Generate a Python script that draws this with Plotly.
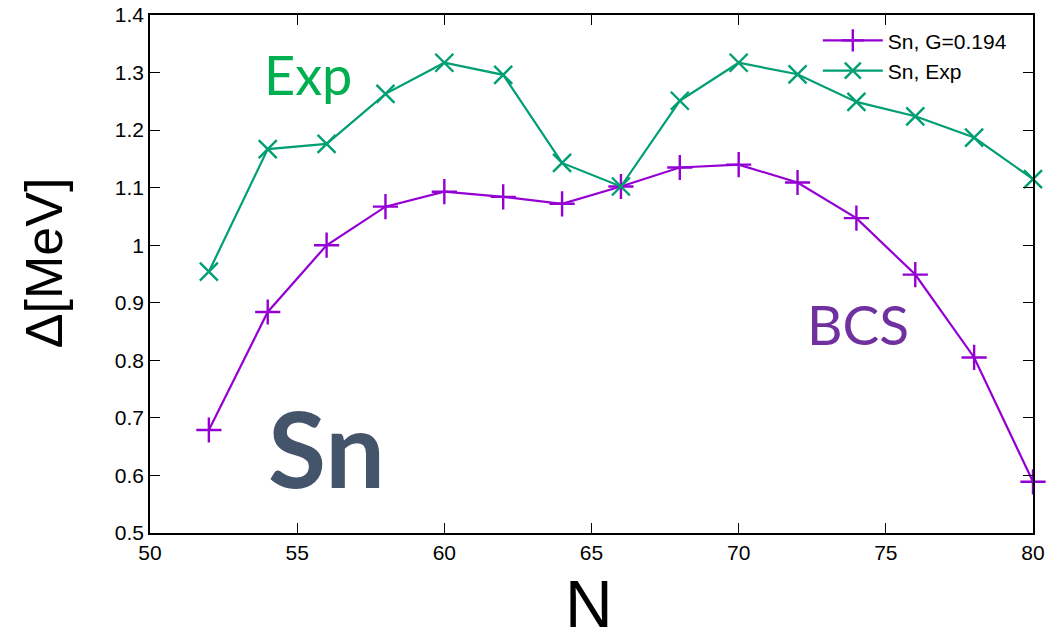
import plotly.graph_objects as go

N = [52, 54, 56, 58, 60, 62, 64, 66, 68, 70, 72, 74, 76, 78, 80]
bcs_gap = [0.679, 0.884, 1.000, 1.067, 1.093, 1.084, 1.072, 1.102, 1.135, 1.140,
           1.109, 1.047, 0.949, 0.805, 0.589]
exp_gap = [0.954, 1.167, 1.176, 1.263, 1.317, 1.296, 1.143, 1.102, 1.251, 1.317,
           1.297, 1.249, 1.224, 1.187, 1.115]
x_ticks = [50, 55, 60, 65, 70, 75, 80]
y_ticks = [0.5, 0.6, 0.7, 0.8, 0.9, 1.0, 1.1, 1.2, 1.3, 1.4]
y_tick_text = ["0.5", "0.6", "0.7", "0.8", "0.9", "1", "1.1", "1.2", "1.3", "1.4"]

PURPLE = "#9400D3"
GREEN = "#009E73"
FONT = "Liberation Sans, Arial, sans-serif"
NARROW = "Liberation Sans Narrow, Liberation Sans, Arial, sans-serif"

fig = go.Figure()
fig.add_trace(go.Scatter(
    x=N, y=bcs_gap, name="Sn, G=0.194", mode="lines+markers",
    line=dict(color=PURPLE, width=2.2),
    marker=dict(symbol="cross-thin", size=18, line=dict(color=PURPLE, width=2.4)),
    cliponaxis=False,
))
fig.add_trace(go.Scatter(
    x=N, y=exp_gap, name="Sn, Exp", mode="lines+markers",
    line=dict(color=GREEN, width=2.2),
    marker=dict(symbol="x-thin", size=18, line=dict(color=GREEN, width=2.4)),
    cliponaxis=False,
))

fig.add_annotation(x=55.37, y=1.296, text="Exp", showarrow=False,
                   xanchor="center", yanchor="middle",
                   font=dict(family="Lato", size=54, color="#00B050"))
fig.add_annotation(x=74.06, y=0.864, text="BCS", showarrow=False,
                   xanchor="center", yanchor="middle",
                   font=dict(family="Lato", size=55, color="#7030A0"))
fig.add_annotation(x=55.98, y=0.649, text="<b>Sn</b>", showarrow=False,
                   xanchor="center", yanchor="middle",
                   font=dict(family="Lato", size=106, color="#44546A"))

# axis titles
fig.add_annotation(xref="paper", yref="paper", x=-0.120, y=0.521, text="Δ[MeV]",
                   textangle=-90, showarrow=False, xanchor="center", yanchor="middle",
                   font=dict(family=FONT, size=52, color="black"))
fig.add_annotation(xref="paper", yref="paper", x=0.497, y=-0.137, text="N",
                   showarrow=False, xanchor="center", yanchor="middle",
                   font=dict(family=NARROW, size=66, color="black"))

axis_common = dict(
    showgrid=False, zeroline=False, showline=True, linecolor="black", linewidth=1.5,
    mirror="ticks", ticks="inside", ticklen=10, tickwidth=1, tickcolor="black",
    tickfont=dict(family=FONT, size=21, color="black"), automargin=False,
    ticklabeloverflow="allow",
)

fig.update_xaxes(range=[50, 80], tickvals=x_ticks, **axis_common)
fig.update_yaxes(range=[0.5, 1.4], tickvals=y_ticks, ticktext=y_tick_text, **axis_common)

fig.update_layout(
    width=1048, height=635,
    margin=dict(l=150, r=15, t=15, b=102),
    plot_bgcolor="white", paper_bgcolor="white",
    legend=dict(x=0.976, y=0.99, xanchor="right", yanchor="top",
                bgcolor="rgba(0,0,0,0)",
                font=dict(family=FONT, size=21, color="black"),
                tracegroupgap=0, itemwidth=60),
)

fig.write_html(
    "out.html",
    config={"displayModeBar": False},
    post_script="document.body.style.margin='0';document.body.style.overflow='hidden';",
)
